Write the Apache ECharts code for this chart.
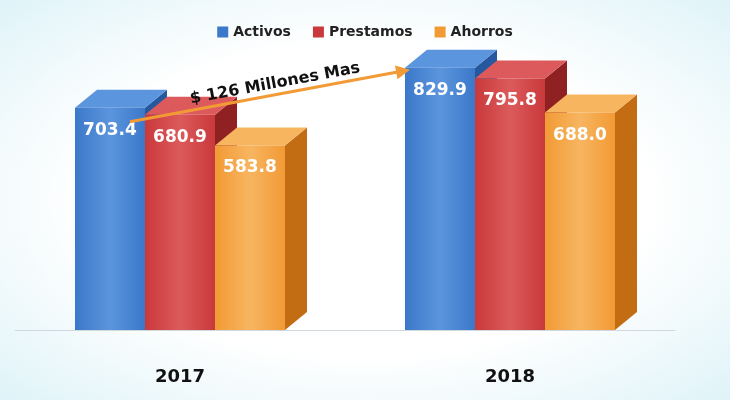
<!DOCTYPE html>
<html><head><meta charset="utf-8">
<script src="https://cdn.jsdelivr.net/npm/echarts@6/dist/echarts.min.js"></script>
<style>html,body{margin:0;padding:0}#c{width:730px;height:400px;background:radial-gradient(ellipse at center,#ffffff 55%,#dff3f8 100%)}</style>
</head><body><div id="c"></div>
<script>
const categories = ['2017', '2018'];
const activos = [703.4, 829.9];
const prestamos = [680.9, 795.8];
const ahorros = [583.8, 688.0];
const annotation = '$ 126 Millones Mas';

const seriesDefs = [
  {name:'Activos', data:activos, front:'#3b78c9', top:'#5b95dd', side:'#25589e'},
  {name:'Prestamos', data:prestamos, front:'#c9393b', top:'#dc5a5b', side:'#8f2123'},
  {name:'Ahorros', data:ahorros, front:'#f29a35', top:'#f7b560', side:'#c26d14'}
];
const BW = 70, DX = 22, DY = 18;
const chart = echarts.init(document.getElementById('c'));
const series = seriesDefs.map((s, i) => ({
  type: 'custom', name: s.name,
  itemStyle: {color: s.front},
  data: s.data.map((v, k) => [k, v]),
  z: 2 + i,
  renderItem(params, api) {
    const top = api.coord([api.value(0), api.value(1)]);
    const base = api.coord([api.value(0), 0]);
    const x0 = top[0] + (i - 1.5) * BW, x1 = x0 + BW, y0 = top[1], y1 = base[1];
    return {type: 'group', children: [
      {type:'polygon', shape:{points:[[x1,y0],[x1+DX,y0-DY],[x1+DX,y1-DY],[x1,y1]]}, style:{fill:s.side}},
      {type:'polygon', shape:{points:[[x0,y0],[x0+DX,y0-DY],[x1+DX,y0-DY],[x1,y0]]}, style:{fill:s.top}},
      {type:'rect', shape:{x:x0,y:y0,width:BW,height:y1-y0}, style:{fill:new echarts.graphic.LinearGradient(0,0,1,0,[{offset:0,color:s.front},{offset:0.5,color:s.top},{offset:1,color:s.front}])}},
      {type:'text', style:{text:api.value(1).toFixed(1), x:(x0+x1)/2, y:y0+14, align:'center', verticalAlign:'top', fill:'#fff', font:'bold 17px "DejaVu Sans"'}}
    ]};
  }
}));
chart.setOption({
  animation:false,
  legend:{top:20, left:'center', itemWidth:11, itemHeight:11, itemGap:22, icon:'rect',
    textStyle:{fontFamily:'DejaVu Sans', fontWeight:'bold', fontSize:14, color:'#222'}},
  grid:{left:15, right:55, top:45.6, bottom:70},
  xAxis:{type:'category', data:categories, axisTick:{show:false},
    axisLine:{lineStyle:{color:'#cfd8dc'}},
    axisLabel:{margin:38, fontFamily:'DejaVu Sans', fontWeight:'bold', fontSize:18, color:'#111'}},
  yAxis:{type:'value', min:0, max:900, show:false, splitLine:{show:false}},
  series
});
const p0 = chart.convertToPixel({gridIndex:0}, [0, activos[0]]);
const p1 = chart.convertToPixel({gridIndex:0}, [1, activos[1]]);
const a = [p0[0] - 50, p0[1] + 14], b = [p1[0] - 100, p1[1] + 2];
const ang = Math.atan2(b[1]-a[1], b[0]-a[0]);
chart.setOption({graphic:[
  {type:'line', shape:{x1:a[0],y1:a[1],x2:b[0]-10*Math.cos(ang),y2:b[1]-10*Math.sin(ang)}, style:{stroke:'#f29a35', lineWidth:3}, z:100},
  {type:'polygon', shape:{points:[[b[0],b[1]],[b[0]-14*Math.cos(ang)+7*Math.sin(ang),b[1]-14*Math.sin(ang)-7*Math.cos(ang)],[b[0]-14*Math.cos(ang)-7*Math.sin(ang),b[1]-14*Math.sin(ang)+7*Math.cos(ang)]]}, style:{fill:'#f29a35'}, z:100},
  {type:'text', x:(a[0]+b[0])/2+5, y:(a[1]+b[1])/2-12, rotation:-ang, style:{text:annotation, align:'center', verticalAlign:'middle', fill:'#111', font:'bold 16px "DejaVu Sans"'}, z:100}
]});
</script></body></html>
